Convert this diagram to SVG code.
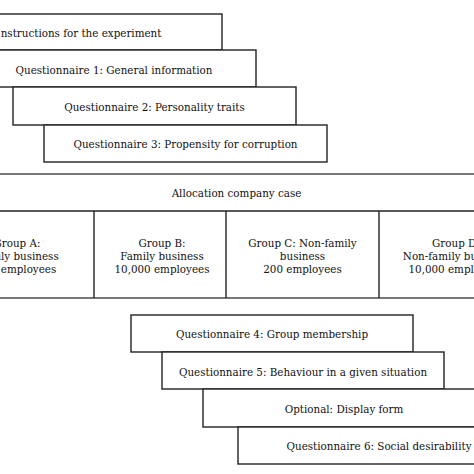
<svg xmlns="http://www.w3.org/2000/svg" width="474" height="474" viewBox="0 0 474 474">
<style>
.b{fill:#fff;stroke:#222;stroke-width:1.4}
.l{stroke:#222;stroke-width:1.4;fill:none}
.t{font-family:"DejaVu Serif Condensed","DejaVu Serif",serif;font-size:11.5px;fill:#111;text-anchor:middle}
</style>
<rect width="474" height="474" fill="#fff"/>
<g id="n1"><rect class="b" x="-64" y="14" width="286" height="36"/><text class="t" x="79" y="36.5">Instructions for the experiment</text></g>
<g id="n2"><rect class="b" x="-28" y="50" width="284" height="37"/><text class="t" x="114" y="73.5">Questionnaire 1: General information</text></g>
<g id="n3"><rect class="b" x="13" y="87" width="283" height="38"/><text class="t" x="154.5" y="110.5">Questionnaire 2: Personality traits</text></g>
<g id="n4"><rect class="b" x="44" y="125" width="283" height="37"/><text class="t" x="185.5" y="148">Questionnaire 3: Propensity for corruption</text></g>
<g id="alloc">
<rect class="b" x="-10" y="174" width="494" height="124" style="stroke:#555;stroke-width:1.6"/>
<line class="l" x1="-10" y1="211" x2="484" y2="211"/>
<text class="t" x="236.5" y="197">Allocation company case</text>
</g>
<g id="gA"><text class="t" x="17" y="247">Group A:</text><text class="t" x="17" y="260">Family business</text><text class="t" x="17" y="273">200 employees</text></g>
<g id="gB"><line class="l" x1="94" y1="211" x2="94" y2="298"/><text class="t" x="162" y="247">Group B:</text><text class="t" x="162" y="260">Family business</text><text class="t" x="162" y="273">10,000 employees</text></g>
<g id="gC"><line class="l" x1="226" y1="211" x2="226" y2="298"/><text class="t" x="302.5" y="247">Group C: Non-family</text><text class="t" x="302.5" y="260">business</text><text class="t" x="302.5" y="273">200 employees</text></g>
<g id="gD"><line class="l" x1="379" y1="211" x2="379" y2="298"/><text class="t" x="456" y="247">Group D:</text><text class="t" x="456" y="260">Non-family business</text><text class="t" x="456" y="273">10,000 employees</text></g>
<g id="n5"><rect class="b" x="131" y="315" width="282" height="37"/><text class="t" x="272" y="338">Questionnaire 4: Group membership</text></g>
<g id="n6"><rect class="b" x="162" y="352" width="282" height="37"/><text class="t" x="303" y="375.5">Questionnaire 5: Behaviour in a given situation</text></g>
<g id="n7"><rect class="b" x="203" y="389" width="282" height="38"/><text class="t" x="344" y="412.5">Optional: Display form</text></g>
<g id="n8"><rect class="b" x="238" y="427" width="282" height="37"/><text class="t" x="379" y="450">Questionnaire 6: Social desirability</text></g>
<g id="connectors"></g>
</svg>
